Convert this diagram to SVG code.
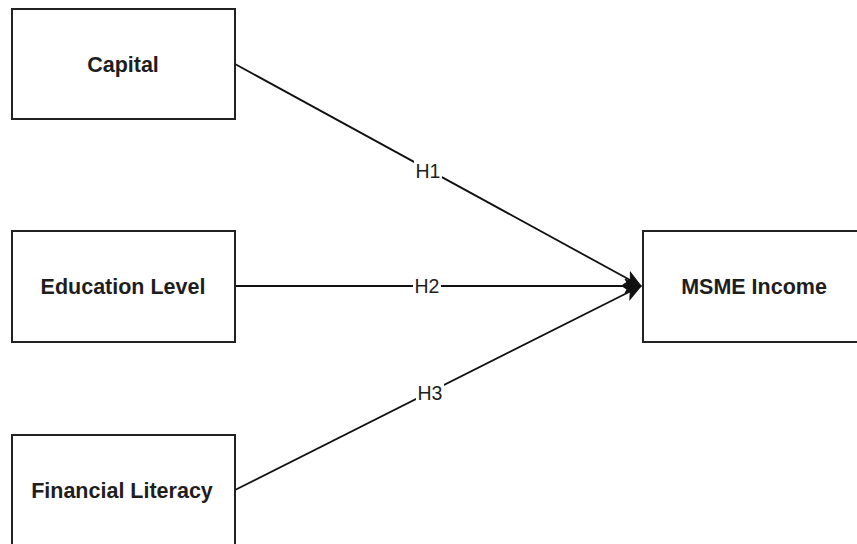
<svg xmlns="http://www.w3.org/2000/svg" width="857" height="544" viewBox="0 0 857 544">
<style>
.box{fill:#fff;stroke:#222;stroke-width:2}
.nt{font-family:"Liberation Sans",Arial,sans-serif;font-weight:bold;font-size:21.5px;fill:#1e1e1e;text-anchor:middle}
.edge{stroke:#111;stroke-width:1.8;fill:none}
.lbl{font-family:"Liberation Sans",Arial,sans-serif;font-size:19.5px;fill:#1e1e1e;text-anchor:middle}
.lbg{fill:#fff}
</style>
<defs>
<marker id="arr" markerUnits="userSpaceOnUse" markerWidth="20" markerHeight="16" viewBox="-17 -8 20 16" refX="0" refY="0" orient="auto">
<path d="M0,0 L-16,-7 L-12,0 L-16,7 Z" fill="#111" stroke="#111" stroke-width="1"/>
</marker>
</defs>
<rect width="857" height="544" fill="#fff"/>
<g id="connectors">
<line class="edge" x1="235" y1="64" x2="641" y2="286" marker-end="url(#arr)"/>
<line class="edge" x1="235" y1="286" x2="641" y2="286" marker-end="url(#arr)"/>
<line class="edge" x1="235" y1="490" x2="641" y2="286" marker-end="url(#arr)"/>
<rect class="lbg" x="414" y="160" width="28" height="22"/>
<text class="lbl" x="428" y="178">H1</text>
<rect class="lbg" x="413" y="275" width="28" height="22"/>
<text class="lbl" x="427" y="293">H2</text>
<rect class="lbg" x="416" y="382" width="28" height="22"/>
<text class="lbl" x="430" y="400">H3</text>
</g>
<g id="capital">
<rect class="box" x="12" y="9" width="223" height="110"/>
<text class="nt" x="123" y="72">Capital</text>
</g>
<g id="education">
<rect class="box" x="12" y="231" width="223" height="111"/>
<text class="nt" x="123" y="294">Education Level</text>
</g>
<g id="financial">
<rect class="box" x="12" y="435" width="223" height="115"/>
<text class="nt" x="122" y="498">Financial Literacy</text>
</g>
<g id="msme">
<rect class="box" x="643" y="231" width="220" height="111"/>
<text class="nt" x="754" y="294">MSME Income</text>
</g>
</svg>
